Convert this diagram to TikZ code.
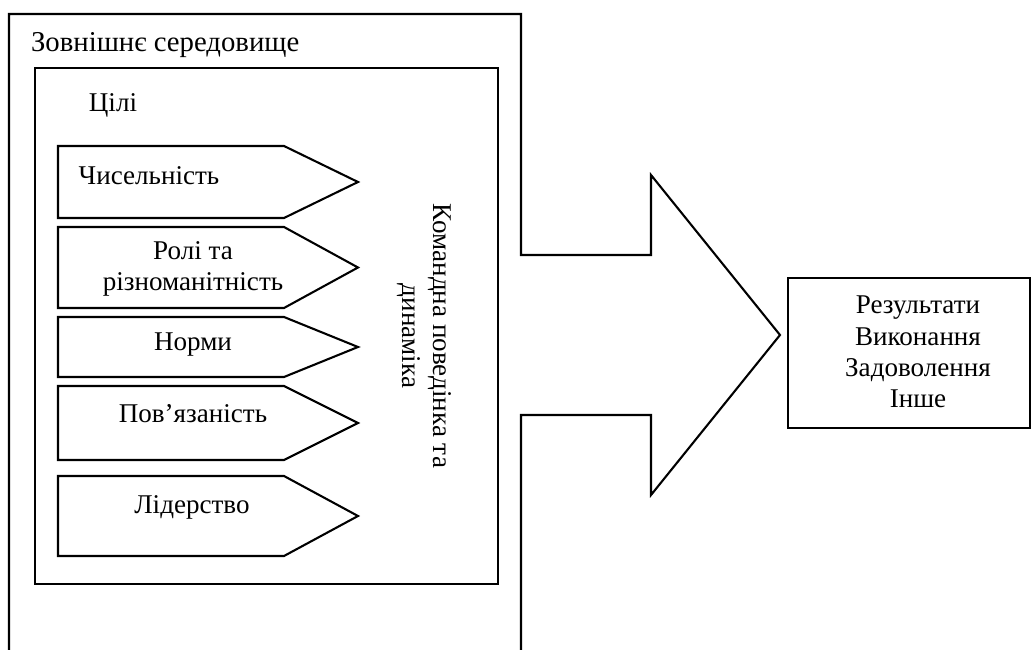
\documentclass[tikz,border=0pt]{standalone}
\usepackage{fontspec}
\setmainfont{Liberation Serif}
\usepackage{tikz}

\begin{document}
\begin{tikzpicture}[x=0.48pt,y=-0.48pt,line width=1pt,
  txt/.style={font=\fontsize{13}{15}\selectfont,inner sep=0pt,align=center}]
\useasboundingbox (0,0) rectangle (1035,650);

% outer frame with the big arrow
\draw (9,650) -- (9,14) -- (521,14) -- (521,255) -- (651,255) -- (651,175)
  -- (780,335) -- (651,495) -- (651,415) -- (521,415) -- (521,650);
\node[txt,anchor=west,font=\fontsize{13.8}{15}\selectfont] (env) at (30,45) {Зовнішнє середовище};

% inner box
\draw (35,68) rectangle (498,584);
\node[txt] (goals) at (113,105) {Цілі};

\foreach \t/\b in {146/218,227/308,317/377,386/460,476/556}{
\draw (58,\t) -- (284,\t) -- (358,{(\t+\b)/2}) -- (284,\b) -- (58,\b) -- cycle;}

\node[txt] (size) at (149,176) {Чисельність};
\node[txt] (roles) at (193,269) {Ролі та\\різноманітність};
\node[txt] (norms) at (193,345) {Норми};
\node[txt] (cohes) at (193,414) {Пов’язаність};
\node[txt] (lead) at (192,507) {Лідерство};

\node[txt,rotate=-90] (dyn) at (424,336) {Командна поведінка та\\динаміка};

% outcomes
\node[txt,draw,minimum width=242*0.48pt,minimum height=150*0.48pt] (res) at (909,353) {};
\node[txt] (restxt) at (918,352) {Результати\\Виконання\\Задоволення\\Інше};
\end{tikzpicture}
\end{document}
